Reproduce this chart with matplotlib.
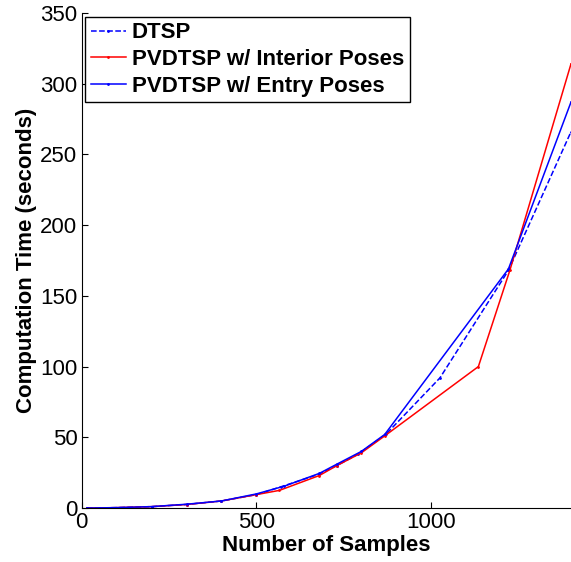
import matplotlib
matplotlib.use('Agg')
import matplotlib.pyplot as plt

plt.rcParams['font.family'] = ['Liberation Sans', 'DejaVu Sans']

# DTSP (dashed blue)
x_dtsp = [15, 50, 100, 200, 300, 400, 500, 570, 680, 730, 790, 870, 1025, 1221, 1400]
y_dtsp = [0, 0.1, 0.3, 1, 2.5, 5, 9.5, 15, 24, 30, 38, 52, 92, 168, 266]

# PVDTSP w/ Interior Poses (red)
x_int = [15, 50, 100, 200, 300, 400, 500, 566, 680, 730, 800, 867, 1135, 1225, 1400]
y_int = [0, 0.1, 0.3, 1, 2.5, 5, 9.5, 12.5, 23, 30, 39, 51, 100, 168, 314]

# PVDTSP w/ Entry Poses (blue)
x_ent = [15, 50, 100, 200, 300, 400, 500, 580, 680, 730, 800, 867, 1221, 1400]
y_ent = [0, 0.1, 0.3, 1, 2.7, 5, 10, 15.5, 24.5, 31, 40, 52, 169, 287]

labels = ['DTSP', 'PVDTSP w/ Interior Poses', 'PVDTSP w/ Entry Poses']

fig = plt.figure(figsize=(5.71, 5.62), dpi=100)
ax = fig.add_axes([0.143, 0.096, 0.857, 0.881])

ax.plot(x_dtsp, y_dtsp, '--', color='blue', marker='.', markersize=2, lw=1.1, label=labels[0])
ax.plot(x_int, y_int, '-', color='red', marker='.', markersize=2, lw=1.1, label=labels[1])
ax.plot(x_ent, y_ent, '-', color='blue', marker='.', markersize=2, lw=1.1, label=labels[2])

ax.set_xlim(0, 1400)
ax.set_ylim(0, 350)
ax.set_xticks([0, 500, 1000])
ax.set_yticks(range(0, 351, 50))
ax.spines['top'].set_visible(False)
ax.spines['right'].set_visible(False)
ax.tick_params(direction='in', length=4, labelsize=16, width=0.8, pad=3)

ax.set_xlabel('Number of Samples', fontsize=16, fontweight='bold', labelpad=1)
ax.set_ylabel('Computation Time (seconds)', fontsize=16, fontweight='bold', labelpad=2)

leg = ax.legend(loc='upper left', bbox_to_anchor=(0.007, 0.992), borderaxespad=0,
                fancybox=False, edgecolor='black', framealpha=1,
                prop={'weight': 'bold', 'size': 16}, handlelength=1.6,
                labelspacing=0.25, borderpad=0.25, handletextpad=0.25)
leg.get_frame().set_linewidth(1.0)

plt.savefig('out.png', dpi=100)
